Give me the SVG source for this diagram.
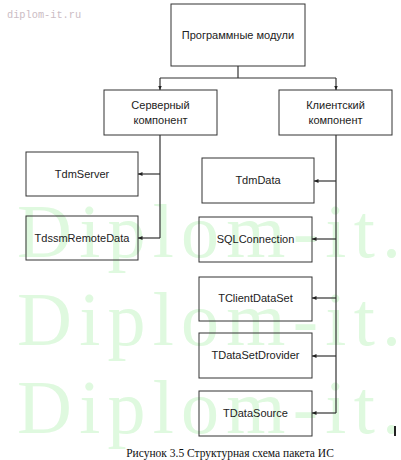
<svg xmlns="http://www.w3.org/2000/svg" width="401" height="460" viewBox="0 0 401 460">
<defs>
<style>
.box{fill:none;stroke:#333;stroke-width:1}
.lbl{font-family:"Liberation Sans",Arial,sans-serif;font-size:11px;fill:#222;text-anchor:middle}
.ln{fill:none;stroke:#333;stroke-width:1.2}
.wm{font-family:"Liberation Serif","Times New Roman",serif;font-size:76px;fill:#dff9df}
</style>
<marker id="ah" markerWidth="5" markerHeight="5" refX="4.5" refY="2.5" orient="auto" markerUnits="userSpaceOnUse">
<path d="M0,0.5 L4.5,2.5 L0,4.5 Z" fill="#222"/>
</marker>
</defs>
<rect width="401" height="460" fill="#fff"/>
<g id="watermark">
<text class="wm" x="17" y="257" textLength="384" lengthAdjust="spacing">Diplom-it.</text>
<text class="wm" x="17" y="345" textLength="384" lengthAdjust="spacing">Diplom-it.</text>
<text class="wm" x="17" y="433" textLength="384" lengthAdjust="spacing">Diplom-it.</text>
<text x="7" y="18" font-family="Liberation Mono,monospace" font-size="10.3" fill="#cbbcc4">diplom-it.ru</text>
</g>
<g id="connectors">
<path class="ln" d="M238,66 V78"/>
<path class="ln" d="M160,78 H336"/>
<path class="ln" d="M160,78 V90" marker-end="url(#ah)"/>
<path class="ln" d="M336,78 V90" marker-end="url(#ah)"/>
<path class="ln" d="M160,135 V238"/>
<path class="ln" d="M160,174 H138" marker-end="url(#ah)"/>
<path class="ln" d="M160,238 H138" marker-end="url(#ah)"/>
<path class="ln" d="M336,135 V413"/>
<path class="ln" d="M336,181 H314" marker-end="url(#ah)"/>
<path class="ln" d="M336,239 H312" marker-end="url(#ah)"/>
<path class="ln" d="M336,298 H312" marker-end="url(#ah)"/>
<path class="ln" d="M336,356 H312" marker-end="url(#ah)"/>
<path class="ln" d="M336,413 H312" marker-end="url(#ah)"/>
</g>
<g id="n-root"><rect class="box" x="171" y="4" width="134" height="62"/><text class="lbl" x="238" y="39">Программные модули</text></g>
<g id="n-server"><rect class="box" x="104" y="90" width="113" height="45"/><text class="lbl" x="160.5" y="109">Серверный</text><text class="lbl" x="160.5" y="124">компонент</text></g>
<g id="n-client"><rect class="box" x="279" y="90" width="113" height="45"/><text class="lbl" x="335.5" y="109">Клиентский</text><text class="lbl" x="335.5" y="124">компонент</text></g>
<g id="n-tdmserver"><rect class="box" x="26" y="152" width="112" height="44"/><text class="lbl" x="82" y="178">TdmServer</text></g>
<g id="n-tdssm"><rect class="box" x="26" y="216" width="112" height="44"/><text class="lbl" x="82" y="242">TdssmRemoteData</text></g>
<g id="n-tdmdata"><rect class="box" x="202" y="158" width="112" height="45"/><text class="lbl" x="258" y="184">TdmData</text></g>
<g id="n-sql"><rect class="box" x="199" y="217" width="113" height="45"/><text class="lbl" x="255.5" y="243">SQLConnection</text></g>
<g id="n-cds"><rect class="box" x="199" y="277" width="113" height="44"/><text class="lbl" x="255.5" y="302">TClientDataSet</text></g>
<g id="n-dsp"><rect class="box" x="199" y="333" width="113" height="45"/><text class="lbl" x="255.5" y="359">TDataSetDrovider</text></g>
<g id="n-ds"><rect class="box" x="199" y="391" width="113" height="45"/><text class="lbl" x="255.5" y="417">TDataSource</text></g>
<rect x="394" y="426" width="2" height="10" fill="#222"/>
<text x="230" y="457" font-family="Liberation Serif,'Times New Roman',serif" font-size="11.5" fill="#111" text-anchor="middle">Рисунок 3.5 Структурная схема пакета ИС</text>
</svg>
